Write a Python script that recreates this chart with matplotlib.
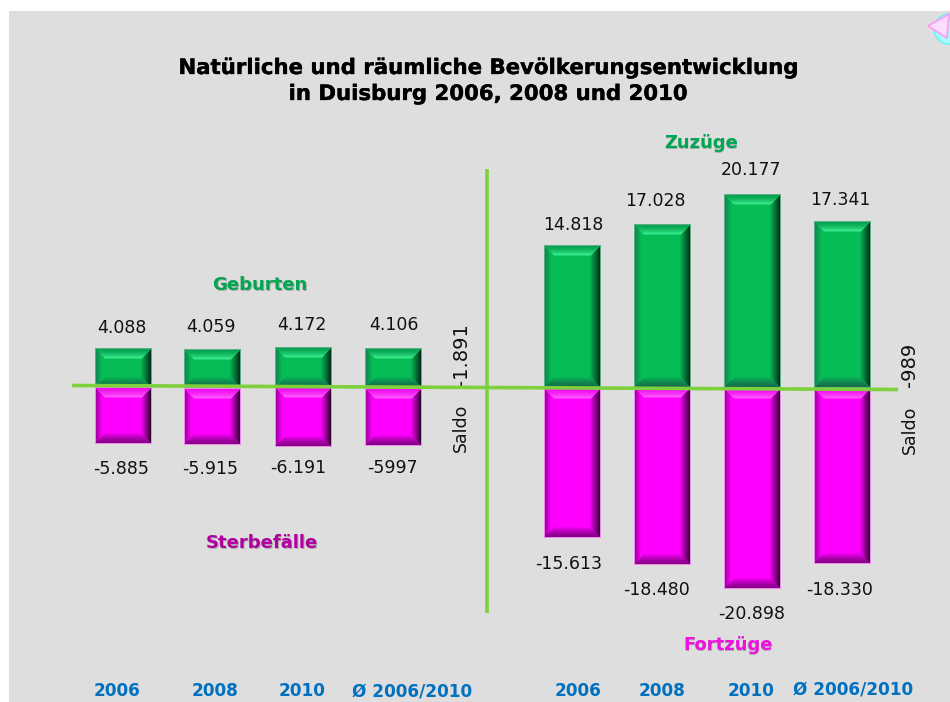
import numpy as np
import matplotlib
matplotlib.use("Agg")
import matplotlib.pyplot as plt
import matplotlib.patheffects as pe
from matplotlib.patches import Polygon, Circle, Rectangle

plt.rcParams['font.family'] = ['DejaVu Sans']

years = ["2006", "2008", "2010", "Ø 2006/2010"]
geburten = [4088, 4059, 4172, 4106]
sterbefaelle = [-5885, -5915, -6191, -5997]
zuzuege = [14818, 17028, 20177, 17341]
fortzuege = [-15613, -18480, -20898, -18330]
geburten_lbl = ["4.088", "4.059", "4.172", "4.106"]
sterbe_lbl = ["-5.885", "-5.915", "-6.191", "-5997"]
zuzuege_lbl = ["14.818", "17.028", "20.177", "17.341"]
fortzuege_lbl = ["-15.613", "-18.480", "-20.898", "-18.330"]

W, H = 950, 702
Y0 = 388.0
SCALE = 0.0096  # px per person

fig = plt.figure(figsize=(W / 100, H / 100), dpi=100, facecolor='white')
ax = fig.add_axes([0, 0, 1, 1])
ax.set_xlim(0, W)
ax.set_ylim((Y0 - H) / SCALE, Y0 / SCALE)
ax.axis('off')
ov = fig.add_axes([0, 0, 1, 1], zorder=5)
ov.set_xlim(0, W)
ov.set_ylim(H, 0)
ov.axis('off')
ov.patch.set_alpha(0)

ax.add_patch(Rectangle((9, ax.get_ylim()[0]), W - 9, (H - 11) / SCALE,
                       fc='#dedede', ec='none', zorder=0))


def hexc(c):
    return np.array(matplotlib.colors.to_rgb(c))


def bevel(w, h, base, top, light, left, right, bottom, rim, B=11):
    base, top, light, left, right, bottom, rim = map(
        hexc, (base, top, light, left, right, bottom, rim))
    img = np.zeros((h, w, 3))
    for j in range(h):
        for i in range(w):
            dl, dr, dt, db = i, w - 1 - i, j, h - 1 - j
            d = min(dl, dr, dt, db)
            c = base
            if d == 0:
                c = rim
            elif d < B:
                t = (d - 1) / (B - 1)
                if d == dt:
                    if t < .8:
                        c = top + (light - top) * (t / .8) ** 1.5
                    else:
                        c = light + (base - light) * ((t - .8) / .2)
                elif d == db:
                    c = bottom + (base - bottom) * t ** 1.3
                elif d == dl:
                    c = left + (base - left) * min(t * 1.7, 1)
                else:
                    c = right + (base - right) * t ** 0.9
            img[j, i] = c
    return img


def draw(centers, vals, width, green):
    bars = ax.bar(centers, vals, width=width, zorder=2,
                  color='#06bc55' if green else '#ff00ff')
    for b in bars:
        x0, w, y, hh = b.get_x(), b.get_width(), b.get_y(), b.get_height()
        hpx = max(int(round(abs(hh) * SCALE)), 2)
        if green:
            img = bevel(int(w), hpx, '#06bc55', '#07a552', '#35e88a', '#0f8a52',
                        '#00301a', '#15704a', '#5cae86')
        else:
            img = bevel(int(w), hpx, '#ff00ff', '#f010f0', '#ff55ff', '#a800a8',
                        '#300030', '#880088', '#ee88ee')
        ylo, yhi = min(y, y + hh), max(y, y + hh)
        ax.imshow(img, extent=(x0, x0 + w, ylo, yhi), aspect='auto', zorder=3,
                  interpolation='nearest')
    ax.set_xlim(0, W)
    ax.set_ylim((Y0 - H) / SCALE, Y0 / SCALE)


left_x = [123.5, 212.5, 303.5, 393]
right_x = [572.5, 662.5, 752.5, 842.5]
draw(left_x, geburten, 57, True)
draw(left_x, sterbefaelle, 57, False)
draw(right_x, zuzuege, 57, True)
draw(right_x, fortzuege, 57, False)

# axis lines
ov.plot([72, 898], [385.5, 389.5], color='#7ed03c', lw=2.6, solid_capstyle='butt', zorder=6)
ov.plot([487, 487], [169, 613], color='#7ed03c', lw=2.6, solid_capstyle='butt', zorder=6)

# decoration
ov.add_patch(Circle((949, 29), 15, fc='#a8fbfb', ec='#60f4f4', lw=1, zorder=7))
ov.add_patch(Polygon([(928, 26), (949, 14), (947, 38)], closed=True,
                     fc='#fbdcfb', ec='#fb9cf6', lw=1.3, zorder=8))

T = dict(ha='center', va='center', color='#111111', fontsize=12.5)
for xs, lbls, ys in [
    ([122, 211, 302, 394], geburten_lbl, [328, 327, 325, 325]),
    ([121, 210, 298, 392], sterbe_lbl, [469, 469, 468, 468]),
    ([573, 655, 751, 840], zuzuege_lbl, [225, 201, 170, 200]),
    ([569, 657, 752, 840], fortzuege_lbl, [564, 590, 614, 590]),
]:
    for x, l, y in zip(xs, lbls, ys):
        ov.text(x, y, l, **T)

heavy = [pe.withStroke(linewidth=0.25, foreground='black')]
ov.text(488, 68, "Natürliche und räumliche Bevölkerungsentwicklung", ha='center', va='center',
        fontsize=15.3, fontweight='bold', color='black', path_effects=heavy)
ov.text(488, 94, "in Duisburg 2006, 2008 und 2010", ha='center', va='center',
        fontsize=15.3, fontweight='bold', color='black', path_effects=heavy)

for x, y, s, c in [(260, 285, "Geburten", '#00a651'), (701, 143, "Zuzüge", '#00a651'),
                   (262, 543, "Sterbefälle", '#b000a0'), (728, 645, "Fortzüge", '#f010e0')]:
    ov.text(x + 0.6, y + 0.6, s, ha='center', va='center', fontsize=13, fontweight='bold', color='#aaaaaa')
    ov.text(x, y, s, ha='center', va='center', fontsize=13, fontweight='bold', color=c)

for xs, ys in [([117.5, 215.5, 302.5, 412], [691] * 4), ([578, 662.5, 751.5, 853], [691, 691, 691, 689])]:
    for x, y, s in zip(xs, ys, years):
        ov.text(x, y, s, ha='center', va='center', fontsize=12.2, fontweight='bold', color='#0070c0')

S = dict(T, rotation=90)
ov.text(461, 427.5, "Saldo", **S)
ov.text(461, 354.5, "-1.891", **dict(S, fontsize=14))
ov.text(910, 430, "Saldo", **S)
ov.text(910, 365, "-989", **dict(S, fontsize=14))

fig.savefig("out.png", dpi=100)
